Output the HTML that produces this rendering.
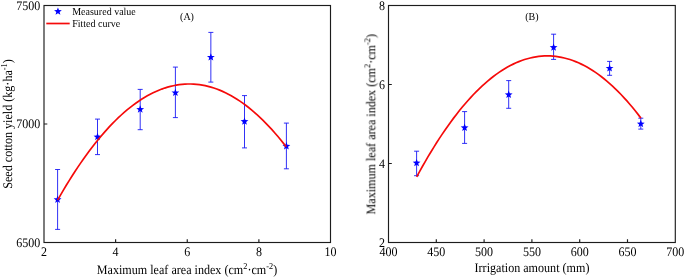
<!DOCTYPE html><html><head><meta charset="utf-8"><style>html,body{margin:0;padding:0;background:#fff}svg{display:block;will-change:transform;opacity:0.9999}text{font-family:"Liberation Serif",serif;fill:#000;filter:url(#bl);text-rendering:geometricPrecision}</style></head><body>
<svg width="685" height="277" viewBox="0 0 685 277">
<rect width="685" height="277" fill="#fff"/>
<defs><filter id="bl" x="-5%" y="-20%" width="110%" height="140%"><feGaussianBlur stdDeviation="0.35"/></filter></defs>
<path d="M57.60,169.50V229.40M55.10,169.50H60.10M55.10,229.40H60.10" stroke="#1a1af5" stroke-width="0.9" fill="none"/>
<path d="M97.50,119.10V154.60M95.00,119.10H100.00M95.00,154.60H100.00" stroke="#1a1af5" stroke-width="0.9" fill="none"/>
<path d="M140.20,89.40V129.70M137.70,89.40H142.70M137.70,129.70H142.70" stroke="#1a1af5" stroke-width="0.9" fill="none"/>
<path d="M175.40,67.10V117.60M172.90,67.10H177.90M172.90,117.60H177.90" stroke="#1a1af5" stroke-width="0.9" fill="none"/>
<path d="M210.85,32.40V82.10M208.35,32.40H213.35M208.35,82.10H213.35" stroke="#1a1af5" stroke-width="0.9" fill="none"/>
<path d="M244.50,95.60V147.90M242.00,95.60H247.00M242.00,147.90H247.00" stroke="#1a1af5" stroke-width="0.9" fill="none"/>
<path d="M286.40,123.10V168.80M283.90,123.10H288.90M283.90,168.80H288.90" stroke="#1a1af5" stroke-width="0.9" fill="none"/>
<polygon points="57.60,195.50 58.61,198.21 61.50,198.33 59.24,200.13 60.01,202.92 57.60,201.32 55.19,202.92 55.96,200.13 53.70,198.33 56.59,198.21" fill="#0000ff"/>
<polygon points="97.50,132.80 98.51,135.51 101.40,135.63 99.14,137.43 99.91,140.22 97.50,138.62 95.09,140.22 95.86,137.43 93.60,135.63 96.49,135.51" fill="#0000ff"/>
<polygon points="140.20,105.30 141.21,108.01 144.10,108.13 141.84,109.93 142.61,112.72 140.20,111.12 137.79,112.72 138.56,109.93 136.30,108.13 139.19,108.01" fill="#0000ff"/>
<polygon points="175.40,88.70 176.41,91.41 179.30,91.53 177.04,93.33 177.81,96.12 175.40,94.52 172.99,96.12 173.76,93.33 171.50,91.53 174.39,91.41" fill="#0000ff"/>
<polygon points="210.85,53.20 211.86,55.91 214.75,56.03 212.49,57.83 213.26,60.62 210.85,59.02 208.44,60.62 209.21,57.83 206.95,56.03 209.84,55.91" fill="#0000ff"/>
<polygon points="244.50,117.40 245.51,120.11 248.40,120.23 246.14,122.03 246.91,124.82 244.50,123.22 242.09,124.82 242.86,122.03 240.60,120.23 243.49,120.11" fill="#0000ff"/>
<polygon points="286.40,142.10 287.41,144.81 290.30,144.93 288.04,146.73 288.81,149.52 286.40,147.92 283.99,149.52 284.76,146.73 282.50,144.93 285.39,144.81" fill="#0000ff"/>
<path d="M57.60,200.11 L60.49,195.06 L63.39,190.13 L66.28,185.31 L69.17,180.60 L72.07,176.00 L74.96,171.52 L77.86,167.14 L80.75,162.88 L83.64,158.73 L86.54,154.70 L89.43,150.77 L92.32,146.96 L95.22,143.26 L98.11,139.67 L101.01,136.19 L103.90,132.83 L106.79,129.58 L109.69,126.44 L112.58,123.41 L115.47,120.49 L118.37,117.69 L121.26,115.00 L124.15,112.42 L127.05,109.95 L129.94,107.59 L132.84,105.35 L135.73,103.22 L138.62,101.20 L141.52,99.29 L144.41,97.50 L147.30,95.81 L150.20,94.24 L153.09,92.78 L155.98,91.44 L158.88,90.20 L161.77,89.08 L164.67,88.07 L167.56,87.17 L170.45,86.38 L173.35,85.71 L176.24,85.14 L179.13,84.69 L182.03,84.36 L184.92,84.13 L187.82,84.02 L190.71,84.01 L193.60,84.12 L196.50,84.34 L199.39,84.68 L202.28,85.12 L205.18,85.68 L208.07,86.35 L210.96,87.14 L213.86,88.03 L216.75,89.04 L219.65,90.15 L222.54,91.38 L225.43,92.73 L228.33,94.18 L231.22,95.75 L234.11,97.43 L237.01,99.22 L239.90,101.12 L242.79,103.14 L245.69,105.26 L248.58,107.50 L251.48,109.85 L254.37,112.32 L257.26,114.89 L260.16,117.58 L263.05,120.38 L265.94,123.29 L268.84,126.31 L271.73,129.45 L274.63,132.70 L277.52,136.06 L280.41,139.53 L283.31,143.11 L286.20,146.81" stroke="#f50a0a" stroke-width="1.7" fill="none" stroke-linecap="butt"/>
<text transform="translate(44.00,256) scale(1,1.09)" font-size="12.0" text-anchor="middle">2</text>
<text transform="translate(115.62,256) scale(1,1.09)" font-size="12.0" text-anchor="middle">4</text>
<text transform="translate(187.25,256) scale(1,1.09)" font-size="12.0" text-anchor="middle">6</text>
<text transform="translate(258.88,256) scale(1,1.09)" font-size="12.0" text-anchor="middle">8</text>
<text transform="translate(330.50,256) scale(1,1.09)" font-size="12.0" text-anchor="middle">10</text>
<text transform="translate(40.3,246.70) scale(1,1.09)" font-size="12.0" text-anchor="end">6500</text>
<text transform="translate(40.3,128.20) scale(1,1.09)" font-size="12.0" text-anchor="end">7000</text>
<text transform="translate(40.3,9.70) scale(1,1.09)" font-size="12.0" text-anchor="end">7500</text>
<path d="M115.62,242.5v-3.3M187.25,242.5v-3.3M258.88,242.5v-3.3M44.0,124.00h3.3" stroke="#1c1c1c" stroke-width="1.15" fill="none"/>
<rect x="44.0" y="5.5" width="286.5" height="237.0" fill="none" stroke="#1c1c1c" stroke-width="1.15"/>
 <text transform="translate(187,273.5) scale(1,1.09)" font-size="12.1" text-anchor="middle">Maximum leaf area index (cm<tspan font-size="8.3" dy="-4.5">2</tspan><tspan dy="4.5">·cm</tspan><tspan font-size="8.3" dy="-4.5">-2</tspan><tspan dy="4.5">)</tspan></text>
<text transform="translate(12.0,124) rotate(-90) scale(1,1.09)" font-size="12.1" text-anchor="middle">Seed cotton yield (kg·ha<tspan font-size="8.3" dy="-4.5">-1</tspan><tspan dy="4.5">)</tspan></text>
<polygon points="57.95,7.40 58.96,10.11 61.85,10.23 59.59,12.03 60.36,14.82 57.95,13.22 55.54,14.82 56.31,12.03 54.05,10.23 56.94,10.11" fill="#0000ff"/>
<path d="M46.3,23.5H69.7" stroke="#f50a0a" stroke-width="1.7"/>
<text transform="translate(72.2,14.8) scale(1,1.06)" font-size="10">Measured value</text>
<text transform="translate(72.2,26.8) scale(1,1.06)" font-size="10">Fitted curve</text>
 <text transform="translate(187,20.05) scale(1,1.06)" font-size="10" text-anchor="middle">(A)</text>
<path d="M416.60,151.20V175.70M414.10,151.20H419.10M414.10,175.70H419.10" stroke="#1a1af5" stroke-width="0.9" fill="none"/>
<path d="M464.60,111.60V143.40M462.10,111.60H467.10M462.10,143.40H467.10" stroke="#1a1af5" stroke-width="0.9" fill="none"/>
<path d="M508.70,80.60V108.30M506.20,80.60H511.20M506.20,108.30H511.20" stroke="#1a1af5" stroke-width="0.9" fill="none"/>
<path d="M553.60,34.20V59.40M551.10,34.20H556.10M551.10,59.40H556.10" stroke="#1a1af5" stroke-width="0.9" fill="none"/>
<path d="M609.60,61.40V75.30M607.10,61.40H612.10M607.10,75.30H612.10" stroke="#1a1af5" stroke-width="0.9" fill="none"/>
<path d="M640.80,118.20V129.10M638.30,118.20H643.30M638.30,129.10H643.30" stroke="#1a1af5" stroke-width="0.9" fill="none"/>
<polygon points="416.60,158.90 417.61,161.61 420.50,161.73 418.24,163.53 419.01,166.32 416.60,164.72 414.19,166.32 414.96,163.53 412.70,161.73 415.59,161.61" fill="#0000ff"/>
<polygon points="464.60,123.60 465.61,126.31 468.50,126.43 466.24,128.23 467.01,131.02 464.60,129.42 462.19,131.02 462.96,128.23 460.70,126.43 463.59,126.31" fill="#0000ff"/>
<polygon points="508.70,90.60 509.71,93.31 512.60,93.43 510.34,95.23 511.11,98.02 508.70,96.42 506.29,98.02 507.06,95.23 504.80,93.43 507.69,93.31" fill="#0000ff"/>
<polygon points="553.60,43.40 554.61,46.11 557.50,46.23 555.24,48.03 556.01,50.82 553.60,49.22 551.19,50.82 551.96,48.03 549.70,46.23 552.59,46.11" fill="#0000ff"/>
<polygon points="609.60,64.20 610.61,66.91 613.50,67.03 611.24,68.83 612.01,71.62 609.60,70.02 607.19,71.62 607.96,68.83 605.70,67.03 608.59,66.91" fill="#0000ff"/>
<polygon points="640.80,119.80 641.81,122.51 644.70,122.63 642.44,124.43 643.21,127.22 640.80,125.62 638.39,127.22 639.16,124.43 636.90,122.63 639.79,122.51" fill="#0000ff"/>
<path d="M416.70,176.81 L419.54,171.61 L422.38,166.52 L425.21,161.55 L428.05,156.69 L430.89,151.95 L433.73,147.32 L436.57,142.81 L439.40,138.41 L442.24,134.12 L445.08,129.95 L447.92,125.90 L450.76,121.95 L453.59,118.13 L456.43,114.41 L459.27,110.81 L462.11,107.33 L464.95,103.95 L467.78,100.70 L470.62,97.56 L473.46,94.53 L476.30,91.61 L479.14,88.81 L481.97,86.13 L484.81,83.56 L487.65,81.10 L490.49,78.76 L493.33,76.53 L496.16,74.41 L499.00,72.41 L501.84,70.53 L504.68,68.76 L507.52,67.10 L510.35,65.56 L513.19,64.13 L516.03,62.81 L518.87,61.61 L521.71,60.53 L524.54,59.56 L527.38,58.70 L530.22,57.96 L533.06,57.33 L535.89,56.81 L538.73,56.41 L541.57,56.13 L544.41,55.96 L547.25,55.90 L550.08,55.96 L552.92,56.13 L555.76,56.41 L558.60,56.81 L561.44,57.33 L564.27,57.96 L567.11,58.70 L569.95,59.56 L572.79,60.53 L575.63,61.61 L578.46,62.81 L581.30,64.13 L584.14,65.55 L586.98,67.10 L589.82,68.75 L592.65,70.52 L595.49,72.41 L598.33,74.41 L601.17,76.52 L604.01,78.75 L606.84,81.09 L609.68,83.55 L612.52,86.12 L615.36,88.81 L618.20,91.61 L621.03,94.52 L623.87,97.55 L626.71,100.69 L629.55,103.95 L632.39,107.32 L635.22,110.80 L638.06,114.40 L640.90,118.12" stroke="#f50a0a" stroke-width="1.7" fill="none" stroke-linecap="butt"/>
<text transform="translate(388.50,256) scale(1,1.09)" font-size="12.0" text-anchor="middle">400</text>
<text transform="translate(436.30,256) scale(1,1.09)" font-size="12.0" text-anchor="middle">450</text>
<text transform="translate(484.10,256) scale(1,1.09)" font-size="12.0" text-anchor="middle">500</text>
<text transform="translate(531.90,256) scale(1,1.09)" font-size="12.0" text-anchor="middle">550</text>
<text transform="translate(579.70,256) scale(1,1.09)" font-size="12.0" text-anchor="middle">600</text>
<text transform="translate(627.50,256) scale(1,1.09)" font-size="12.0" text-anchor="middle">650</text>
<text transform="translate(675.30,256) scale(1,1.09)" font-size="12.0" text-anchor="middle">700</text>
<text transform="translate(385,246.70) scale(1,1.09)" font-size="12.0" text-anchor="end">2</text>
<text transform="translate(385,167.70) scale(1,1.09)" font-size="12.0" text-anchor="end">4</text>
<text transform="translate(385,88.70) scale(1,1.09)" font-size="12.0" text-anchor="end">6</text>
<text transform="translate(385,9.70) scale(1,1.09)" font-size="12.0" text-anchor="end">8</text>
<path d="M436.30,242.5v-3.3M484.10,242.5v-3.3M531.90,242.5v-3.3M579.70,242.5v-3.3M627.50,242.5v-3.3M388.5,163.50h3.3M388.5,84.50h3.3" stroke="#1c1c1c" stroke-width="1.15" fill="none"/>
<rect x="388.5" y="5.5" width="286.79999999999995" height="237.0" fill="none" stroke="#1c1c1c" stroke-width="1.15"/>
 <text transform="translate(532,271.9) scale(1,1.09)" font-size="12.1" text-anchor="middle">Irrigation amount (mm)</text>
<text transform="translate(375.3,124.3) rotate(-90) scale(1,1.09)" font-size="12.1" text-anchor="middle">Maximum leaf area index (cm<tspan font-size="8.3" dy="-4.5">2</tspan><tspan dy="4.5">·cm</tspan><tspan font-size="8.3" dy="-4.5">-2</tspan><tspan dy="4.5">)</tspan></text>
 <text transform="translate(531.8,20.0) scale(1,1.06)" font-size="10" text-anchor="middle">(B)</text>
</svg></body></html>
